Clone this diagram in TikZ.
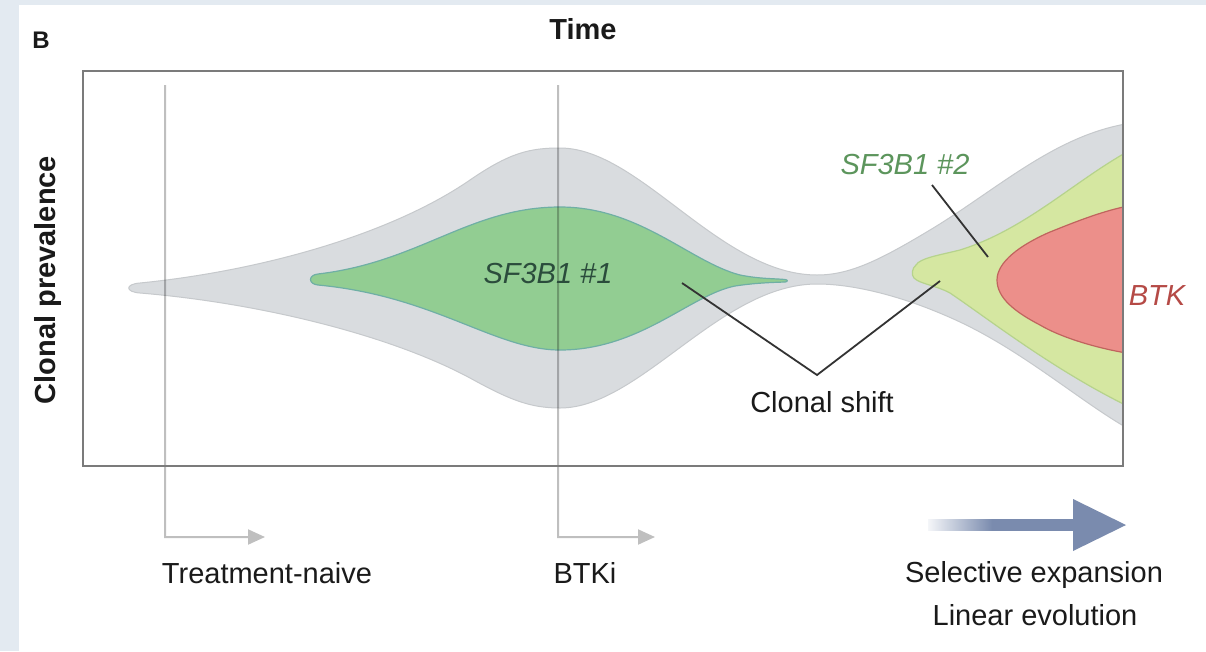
\documentclass[tikz,border=0pt]{standalone}
\usepackage{fontspec}
\setmainfont{Liberation Sans}
\usetikzlibrary{arrows.meta}

\definecolor{panelbg}{HTML}{E3EAF1}
\definecolor{framec}{HTML}{7B7B7B}
\definecolor{envfill}{HTML}{D9DCDF}
\definecolor{envline}{HTML}{C6C9CC}
\definecolor{sfonefill}{HTML}{92CD92}
\definecolor{sfoneline}{HTML}{6FAFA5}
\definecolor{sftwofill}{HTML}{D5E7A1}
\definecolor{sftwoline}{HTML}{B6D38C}
\definecolor{btkfill}{HTML}{EC8F8A}
\definecolor{btkline}{HTML}{C0645E}
\definecolor{pointc}{HTML}{333333}
\definecolor{expc}{HTML}{7A8BAE}
\definecolor{sfonetext}{HTML}{2B4C3C}
\definecolor{sftwotext}{HTML}{5C955C}
\definecolor{btktext}{HTML}{B54A46}
\definecolor{labelc}{HTML}{1A1A1A}

% fade-in for the expansion arrow shaft
\pgfdeclarehorizontalshading{expfade}{100bp}{%
  color(0bp)=(white); color(25bp)=(white!92!expc);
  color(47bp)=(expc); color(100bp)=(expc)}

\tikzset{
  label29/.style={anchor=base, inner sep=0pt, text=labelc,
    font=\fontsize{29}{34}\selectfont},
  heading/.style={label29, font=\bfseries\fontsize{29}{34}\selectfont},
  clonename/.style={label29, font=\itshape\fontsize{29}{34}\selectfont},
  guide/.style={draw=black, line width=2pt,
    -{Triangle[length=17pt, width=15pt]}},
  pointer/.style={draw=pointc, line width=1.8pt, line join=miter},
  frame/.style={draw=framec, line width=2.5pt}
}

\begin{document}
\begin{tikzpicture}[x=1pt, y=-1pt]
\useasboundingbox (0,0) rectangle (1206,651);

% panel background
\fill[panelbg] (0,0) rectangle (1206,651);
\fill[white] (19,5) rectangle (1206,651);

% clonal populations, clipped to the plot area
\begin{scope}
  \clip (83,71) rectangle (1123,466);
  % whole tumour envelope
  \filldraw[fill=envfill, draw=envline, line width=1pt]
    (140,283) .. controls (260,271) and (390,235) .. (470,180)
    .. controls (510,152.5) and (530,148) .. (560,148)
    .. controls (640,148) and (720,275) .. (817,275)
    .. controls (850,275) and (880,260) .. (930,230)
    .. controls (1000,188) and (1060,130) .. (1140,122)
    -- (1140,435)
    .. controls (1090,410) and (1030,355) .. (960,322)
    .. controls (900,294) and (850,284) .. (817,284)
    .. controls (720,284) and (640,408) .. (560,408)
    .. controls (530,408) and (510,400) .. (470,378)
    .. controls (390,335) and (260,303) .. (140,293)
    .. controls (125,292) and (125,284) .. (140,283) -- cycle;
  % SF3B1 clone 1
  \filldraw[fill=sfonefill, draw=sfoneline, line width=1.2pt]
    (318,274) .. controls (420,262) and (470,207) .. (560,207)
    .. controls (640,207) and (690,262) .. (740,275)
    .. controls (760,279) and (775,278.5) .. (785,279.5)
    .. controls (788,279.8) and (788,281.8) .. (785,282)
    .. controls (770,282.5) and (755,283) .. (735,286)
    .. controls (690,295) and (640,350) .. (560,350)
    .. controls (495,350) and (435,296) .. (318,285)
    .. controls (308,284) and (308,275) .. (318,274) -- cycle;
  % SF3B1 clone 2
  \filldraw[fill=sftwofill, draw=sftwoline, line width=1.2pt]
    (916,265) .. controls (920,258) and (940,255) .. (960,250)
    .. controls (1030,228) and (1080,175) .. (1140,145)
    -- (1140,412)
    .. controls (1060,375) and (990,320) .. (950,293)
    .. controls (935,285) and (920,284) .. (914,278)
    .. controls (911,275) and (912,268) .. (916,265) -- cycle;
  % BTK clone
  \filldraw[fill=btkfill, draw=btkline, line width=1.2pt]
    (997,280) .. controls (997,262) and (1020,245) .. (1050,232)
    .. controls (1080,220) and (1110,208) .. (1140,204)
    -- (1140,355)
    .. controls (1100,350) and (1060,337) .. (1040,325)
    .. controls (1015,312) and (997,298) .. (997,280) -- cycle;
\end{scope}

% treatment time points (translucent, so they show through the clones)
\coordinate (tnTop) at (165,85);
\coordinate (tnEnd) at (265,537);
\coordinate (btTop) at (558,85);
\coordinate (btEnd) at (655,537);
\begin{scope}[transparency group, opacity=0.25]
  \draw[guide] (tnTop) |- (tnEnd);
  \draw[guide] (btTop) |- (btEnd);
\end{scope}

% plot frame
\node[frame, minimum width=1040pt, minimum height=395pt, inner sep=0pt]
  (plotbox) at (603,268.5) {};

% titles
\node[heading, font=\bfseries\fontsize{24}{28}\selectfont] (panel) at (41,48) {B};
\node[heading] (time) at (583,39) {Time};
\node[heading, rotate=90] (ylab) at (55,280) {Clonal prevalence};

% clone labels
\node[clonename, text=sfonetext] (sfone) at (548,283) {SF3B1 \#1};
\node[clonename, text=sftwotext] (sftwo) at (905,174) {SF3B1 \#2};
\node[clonename, text=btktext] (btk) at (1157,305) {BTK};

% clonal shift annotation
\node[label29] (shift) at (822,412) {Clonal shift};
\coordinate (shiftA) at (682,283);
\coordinate (shiftV) at (817,375);
\coordinate (shiftB) at (940,281);
\draw[pointer] (shiftA) -- (shiftV) -- (shiftB);
\coordinate (sftwoA) at (932,185);
\coordinate (sftwoB) at (988,257);
\draw[pointer] (sftwoA) -- (sftwoB);

% time point labels
\node[label29] (naive) at (267,583) {Treatment-naive};
\node[label29] (btki) at (585,583) {BTKi};

% selective expansion arrow
\shade[shading=expfade] (928,519.5) rectangle (1074,530.5);
\fill[expc] (1073,499) -- (1126,525) -- (1073,551) -- cycle;
\node[label29] (selexp) at (1034,582) {Selective expansion};
\node[label29] (linevo) at (1035,625) {Linear evolution};
\end{tikzpicture}
\end{document}
